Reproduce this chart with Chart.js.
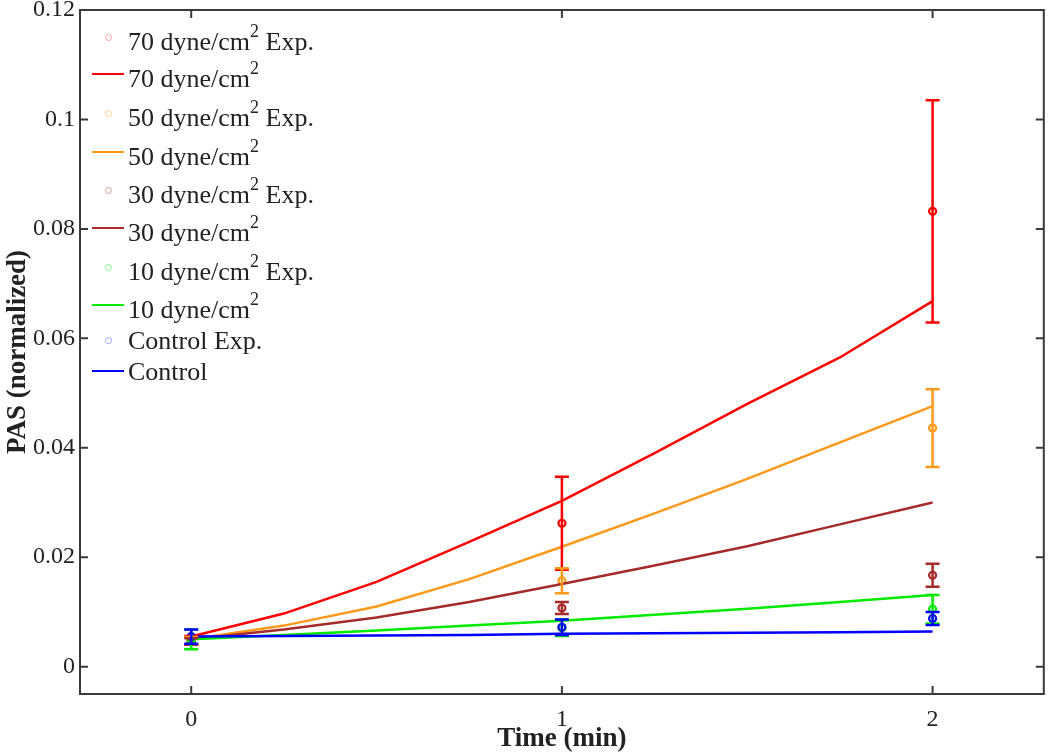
<!DOCTYPE html>
<html>
<head>
<meta charset="utf-8">
<script src="https://cdn.jsdelivr.net/npm/chart.js@4/dist/chart.umd.min.js"></script>
<style>
  html, body { margin: 0; padding: 0; background: #fff; }
  #wrap { position: relative; width: 1050px; height: 754px; }
  #legend { position: absolute; left: 0; top: 0; width: 400px; height: 400px; font-family: "Liberation Serif", "Times New Roman", serif; color: #222; pointer-events: none; }
  .txt { position: absolute; left: 128px; font-size: 26px; line-height: 26px; white-space: nowrap; }
  .txt .sup { font-size: 18px; position: relative; top: -13px; }
  .sample { position: absolute; box-sizing: border-box; }
</style>
</head>
<body>
<div id="wrap">
  <canvas id="c" width="1050" height="754"></canvas>
  <div id="legend"></div>
</div>
<script>
// ---------- data ----------
const seriesNames = ["70 dyne/cm", "50 dyne/cm", "30 dyne/cm", "10 dyne/cm", "Control"];
const seriesHasUnit = [true, true, true, true, false];
const seriesColors = ["rgb(255,0,0)", "rgb(255,153,28)", "rgb(165,42,42)", "rgb(0,235,0)", "rgb(0,0,255)"];
const seriesColorsPale = ["rgba(255,0,0,0.35)", "rgba(255,153,28,0.45)", "rgba(165,42,42,0.4)", "rgba(0,235,0,0.45)", "rgba(0,0,255,0.35)"];

// model curves
const modelTimes = [0, 0.25, 0.5, 0.75, 1, 1.25, 1.5, 1.75, 2];
const model70 = [0.0055, 0.0097, 0.0155, 0.0228, 0.0303, 0.0390, 0.0480, 0.0565, 0.0668];
const model50 = [0.0050, 0.0075, 0.0110, 0.0160, 0.0219, 0.0280, 0.0343, 0.0410, 0.0476];
const model30 = [0.0050, 0.0068, 0.0090, 0.0118, 0.0151, 0.0185, 0.0220, 0.0260, 0.0300];
const model10 = [0.0050, 0.0058, 0.0066, 0.0075, 0.0084, 0.0095, 0.0106, 0.0118, 0.0131];
const modelControl = [0.0055, 0.0056, 0.0057, 0.0058, 0.0060, 0.0061, 0.0062, 0.0063, 0.0064];

// experimental points
const expTimes = [0, 1, 2];
const exp70 = [0.0048, 0.0262, 0.0832];
const err70 = [0.0008, 0.0085, 0.0203];
const exp50 = [0.0047, 0.0157, 0.0436];
const err50 = [0.0007, 0.0023, 0.0071];
const exp30 = [0.0046, 0.0107, 0.0167];
const err30 = [0.0006, 0.0011, 0.0021];
const exp10 = [0.0050, 0.0071, 0.0105];
const err10 = [0.0018, 0.0015, 0.0026];
const expControl = [0.0055, 0.0072, 0.0088];
const errControl = [0.0013, 0.0014, 0.0012];

const xTicks = [0, 1, 2];
const xTickLabels = ["0", "1", "2"];
const yTicks = [0, 0.02, 0.04, 0.06, 0.08, 0.1, 0.12];
const yTickLabels = ["0", "0.02", "0.04", "0.06", "0.08", "0.1", "0.12"];

const models = [model70, model50, model30, model10, modelControl];
const exps = [exp70, exp50, exp30, exp10, expControl];
const errs = [err70, err50, err30, err10, errControl];

// ---------- datasets (control first so it is drawn on top) ----------
const datasets = [];
for (let s = seriesNames.length - 1; s >= 0; s--) {
  datasets.push({
    label: seriesNames[s] + " Exp.",
    data: expTimes.map((t, i) => ({ x: t, y: exps[s][i] })),
    showLine: false,
    pointStyle: 'circle',
    pointRadius: 3.5,
    pointBorderWidth: 2.2,
    borderColor: seriesColors[s],
    backgroundColor: 'rgba(255,255,255,0)',
  });
  datasets.push({
    label: seriesNames[s],
    data: modelTimes.map((t, i) => ({ x: t, y: models[s][i] })),
    borderColor: seriesColors[s],
    borderWidth: 2.5,
    pointRadius: 0,
    tension: 0,
    fill: false,
  });
}

const frameColor = "#3a3a3a";

const extrasPlugin = {
  id: 'extras',
  afterDatasetsDraw(chart) {
    const ctx = chart.ctx, xs = chart.scales.x, ys = chart.scales.y;
    ctx.save();
    ctx.lineWidth = 2.5;
    for (let s = 0; s < seriesNames.length; s++) {
      ctx.strokeStyle = seriesColors[s];
      for (let i = 0; i < expTimes.length; i++) {
        const px = xs.getPixelForValue(expTimes[i]);
        const yt = ys.getPixelForValue(exps[s][i] + errs[s][i]);
        const yb = ys.getPixelForValue(exps[s][i] - errs[s][i]);
        ctx.beginPath();
        ctx.moveTo(px, yt); ctx.lineTo(px, yb);
        ctx.moveTo(px - 7, yt); ctx.lineTo(px + 7, yt);
        ctx.moveTo(px - 7, yb); ctx.lineTo(px + 7, yb);
        ctx.stroke();
      }
    }
    ctx.restore();
  },
  afterDraw(chart) {
    const ctx = chart.ctx, a = chart.chartArea, xs = chart.scales.x, ys = chart.scales.y;
    ctx.save();
    ctx.strokeStyle = frameColor;
    ctx.lineWidth = 2;
    ctx.strokeRect(a.left, a.top, a.right - a.left, a.bottom - a.top);
    ctx.beginPath();
    const L = 8;
    yTicks.forEach(v => {
      const py = ys.getPixelForValue(v);
      ctx.moveTo(a.left, py); ctx.lineTo(a.left + L, py);
      ctx.moveTo(a.right, py); ctx.lineTo(a.right - L, py);
    });
    xTicks.forEach(v => {
      const px = xs.getPixelForValue(v);
      ctx.moveTo(px, a.bottom); ctx.lineTo(px, a.bottom - L);
      ctx.moveTo(px, a.top); ctx.lineTo(px, a.top + L);
    });
    ctx.stroke();
    ctx.restore();
  }
};

const tickFont = { family: "'Liberation Serif', 'Times New Roman', serif", size: 24 };
const titleFont = { family: "'Liberation Serif', 'Times New Roman', serif", size: 27, weight: 'bold', lineHeight: 1.1 };

const chart = new Chart(document.getElementById('c'), {
  type: 'line',
  data: { datasets },
  options: {
    responsive: false,
    animation: false,
    layout: { padding: { top: 10, right: 3, left: 0, bottom: 0 } },
    plugins: { legend: { display: false }, tooltip: { enabled: false } },
    scales: {
      x: {
        type: 'linear',
        min: -0.3, max: 2.3,
        grid: { display: false, drawTicks: false },
        border: { display: false },
        afterBuildTicks: (sc) => { sc.ticks = xTicks.map(v => ({ value: v })); },
        afterFit: (sc) => { sc.height = 60; sc.paddingLeft = 0; sc.paddingRight = 0; },
        ticks: {
          font: tickFont, color: '#222', padding: 11, maxRotation: 0,
          callback: (v) => { const i = xTicks.indexOf(v); return i >= 0 ? xTickLabels[i] : ''; }
        },
        title: { display: true, text: 'Time (min)', font: titleFont, color: '#222', padding: { top: 0, bottom: 0 } }
      },
      y: {
        type: 'linear',
        min: -0.005, max: 0.12,
        grid: { display: false, drawTicks: false },
        border: { display: false },
        afterBuildTicks: (sc) => { sc.ticks = yTicks.map(v => ({ value: v })); },
        afterFit: (sc) => { sc.width = 80; sc.paddingTop = 0; sc.paddingBottom = 0; },
        ticks: {
          font: tickFont, color: '#222', padding: 5,
          callback: (v) => { const i = yTicks.findIndex(t => Math.abs(t - v) < 1e-9); return i >= 0 ? yTickLabels[i] : ''; }
        },
        title: { display: true, text: 'PAS (normalized)', font: titleFont, color: '#222', padding: { top: 3, bottom: 0 } }
      }
    }
  },
  plugins: [extrasPlugin]
});

// ---------- legend (HTML, real text) ----------
const legendCenters = [37, 74, 113, 152, 190, 228, 267, 305, 340, 371];
const legend = document.getElementById('legend');
let r = 0;
for (let s = 0; s < seriesNames.length; s++) {
  for (let k = 0; k < 2; k++) {
    const cy = legendCenters[r++];
    const isExp = k === 0;
    if (isExp) {
      const m = document.createElement('div');
      m.className = 'sample';
      m.style.cssText = `left:${108 - 3.5}px;top:${cy - 3.5}px;width:7px;height:7px;border:1.3px solid ${seriesColorsPale[s]};border-radius:50%;`;
      legend.appendChild(m);
    } else {
      const l = document.createElement('div');
      l.className = 'sample';
      l.style.cssText = `left:92px;top:${cy - 1.25}px;width:32px;height:2.5px;background:${seriesColors[s]};`;
      legend.appendChild(l);
    }
    const t = document.createElement('div');
    t.className = 'txt';
    const baseline = cy + (seriesHasUnit[s] ? 12 : 8);
    t.style.top = (baseline - 20) + 'px';
    t.innerHTML = seriesNames[s] + (seriesHasUnit[s] ? '<span class="sup">2</span>' : '') + (isExp ? ' Exp.' : '');
    legend.appendChild(t);
  }
}
</script>
</body>
</html>
